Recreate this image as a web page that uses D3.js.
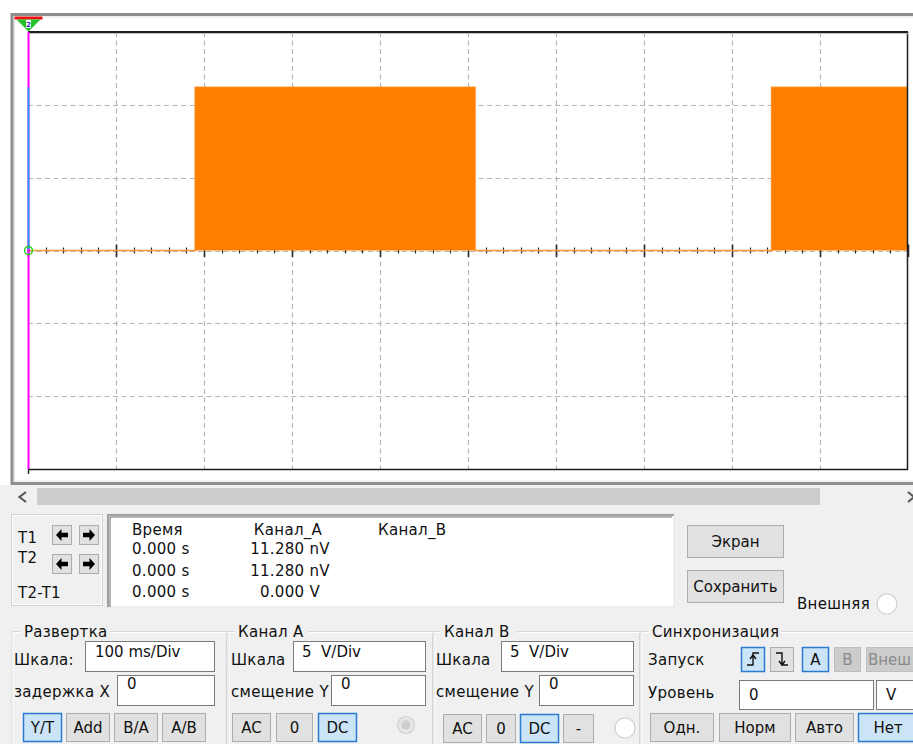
<!DOCTYPE html>
<html>
<head>
<meta charset="utf-8">
<script src="https://cdn.jsdelivr.net/npm/d3@7"></script>
<style>
  html, body { margin: 0; padding: 0; background: #fff; overflow: hidden; }
  svg { display: block; font-family: "DejaVu Sans", sans-serif; }
  svg text { white-space: pre; }
</style>
</head>
<body>
<svg id="scope" width="913" height="744"></svg>
<script>
// ---- Channel A trace: time (ms) against voltage (V) ----
const timeMs   = [0, 190, 190, 508, 508, 845, 845, 1000];
const channelA = [0, 0, 11.2, 11.2, 0, 0, 11.2, 11.2];

// ---- Screen divisions ----
const timeDivs = [0, 100, 200, 300, 400, 500, 600, 700, 800, 900, 1000];
const voltDivs = [-15, -10, -5, 0, 5, 10, 15];
const minorPerDiv = 5;

// ---- Cursor readout ----
const cursorRows     = ["T1", "T2", "T2-T1"];
const readoutHeaders = ["Время", "Канал_А", "Канал_В"];
const readoutTime    = ["0.000 s", "0.000 s", "0.000 s"];
const readoutA       = ["11.280 nV", "11.280 nV", "0.000 V"];

// ---- Instrument settings ----
const timebaseScale = "100 ms/Div";
const delayX        = "0";
const chAScale      = "5  V/Div";
const chAOffset     = "0";
const chBScale      = "5  V/Div";
const chBOffset     = "0";
const triggerLevel  = "0";
const triggerUnit   = "V";

const svg = d3.select("#scope");
const FONT = 15;

// page backgrounds
svg.append("rect").attr("width", 913).attr("height", 744).attr("fill", "#ffffff");
svg.append("rect").attr("x", 0).attr("y", 485).attr("width", 913).attr("height", 259).attr("fill", "#f0f0f0");

// outer screen frame
svg.append("rect").attr("x", 12).attr("y", 14.5).attr("width", 960).attr("height", 469)
  .attr("fill", "#ffffff").attr("stroke", "#8e8e8e").attr("stroke-width", 3);
svg.append("rect").attr("x", 14.5).attr("y", 17).attr("width", 960).attr("height", 464)
  .attr("fill", "none").attr("stroke", "#e4e4e4").attr("stroke-width", 1);

// ---- scales ----
const x = d3.scaleLinear().domain([timeDivs[0], timeDivs[timeDivs.length - 1]]).range([28, 908]);
const y = d3.scaleLinear().domain([voltDivs[0], voltDivs[voltDivs.length - 1]]).range([469, 32]);
const y0 = y(0);

svg.append("clipPath").attr("id", "plotClip")
  .append("rect").attr("x", x(0)).attr("y", y(15)).attr("width", x(1000) - x(0) - 1).attr("height", y(-15) - y(15));

const plot = svg.append("g");

// dashed grid
plot.append("g").selectAll("line").data(timeDivs.slice(1, -1)).join("line")
  .attr("x1", d => Math.round(x(d)) + 0.5).attr("x2", d => Math.round(x(d)) + 0.5)
  .attr("y1", y(15)).attr("y2", y(-15))
  .attr("stroke", "#b5b5b5").attr("stroke-width", 1.2).attr("stroke-dasharray", "5,3.5");
plot.append("g").selectAll("line").data(voltDivs.slice(1, -1)).join("line")
  .attr("x1", x(0)).attr("x2", x(1000))
  .attr("y1", d => Math.round(y(d)) + 0.5).attr("y2", d => Math.round(y(d)) + 0.5)
  .attr("stroke", "#b5b5b5").attr("stroke-width", 1.2).attr("stroke-dasharray", "5,3.5");

// ticks along the centre time axis
const divStep = timeDivs[1] - timeDivs[0];
const minorTicks = d3.range(timeDivs[0], timeDivs[timeDivs.length - 1] + 1e-9, divStep / minorPerDiv);
plot.append("g").selectAll("line").data(minorTicks).join("line")
  .attr("x1", d => Math.round(x(d)) + 0.5).attr("x2", d => Math.round(x(d)) + 0.5)
  .attr("y1", d => (d % divStep === 0 ? y0 - 6 : y0 - 3))
  .attr("y2", d => (d % divStep === 0 ? y0 + 6.5 : y0 + 3))
  .attr("stroke", "#2a2a2a").attr("stroke-width", d => (d % divStep === 0 ? 1.6 : 1.2));

// channel A trace
const idx = d3.range(timeMs.length);
const trace = plot.append("g").attr("clip-path", "url(#plotClip)");
trace.append("path")
  .attr("d", d3.line().x(i => x(timeMs[i])).y(i => y(channelA[i]))(idx))
  .attr("fill", "none").attr("stroke", "#f99b3c").attr("stroke-width", 1.6);
trace.append("path")
  .attr("d", d3.area().x(i => x(timeMs[i])).y0(y0).y1(i => y(channelA[i]))(idx))
  .attr("fill", "#ff8000");

// screen border
const border = svg.append("g").attr("stroke", "#1e1e1e").attr("fill", "none");
border.append("line").attr("x1", x(0)).attr("x2", x(1000)).attr("y1", 32).attr("y2", 32).attr("stroke-width", 1.8);
border.append("line").attr("x1", x(1000) - 0.5).attr("x2", x(1000) - 0.5).attr("y1", 32).attr("y2", 470).attr("stroke-width", 1.5);
border.append("line").attr("x1", x(0)).attr("x2", x(1000)).attr("y1", 469.5).attr("y2", 469.5).attr("stroke-width", 1.6);
border.append("line").attr("x1", x(0) + 0.5).attr("x2", x(0) + 0.5).attr("y1", 469).attr("y2", 474).attr("stroke-width", 1.4);
svg.append("line").attr("x1", x(0)).attr("x2", x(1000)).attr("y1", 33.6).attr("y2", 33.6)
  .attr("stroke", "#bdbdbd").attr("stroke-width", 1);

// cursors T1 / T2 at t = 0
const cx = x(0) + 0.5;
svg.append("line").attr("x1", cx).attr("x2", cx).attr("y1", 32).attr("y2", 469)
  .attr("stroke", "#ff00ff").attr("stroke-width", 2);
svg.append("line").attr("x1", cx).attr("x2", cx).attr("y1", y(channelA[channelA.length - 1])).attr("y2", y0)
  .attr("stroke", "#2f9bf5").attr("stroke-width", 2);
svg.append("circle").attr("cx", cx).attr("cy", y0).attr("r", 4)
  .attr("fill", "none").attr("stroke", "#1fd21f").attr("stroke-width", 1.5);
svg.append("circle").attr("cx", cx).attr("cy", y0).attr("r", 1.3).attr("fill", "#ff00ff");

// cursor flag
svg.append("rect").attr("x", cx - 14).attr("y", 16.5).attr("width", 28).attr("height", 3).attr("fill", "#ee1111");
svg.append("path").attr("d", `M${cx - 12},19.5 L${cx + 12},19.5 L${cx},31.5 Z`).attr("fill", "#22c42a");
svg.append("rect").attr("x", cx - 2.5).attr("y", 20).attr("width", 5).attr("height", 8).attr("fill", "#ffffff");
svg.append("text").attr("x", cx).attr("y", 27).attr("text-anchor", "middle")
  .attr("font-size", 7).attr("font-weight", "bold").attr("fill", "#2233cc").text("2");

// horizontal scrollbar
svg.append("rect").attr("x", 37).attr("y", 488).attr("width", 783).attr("height", 17).attr("fill", "#cdcdcd");
svg.append("path").attr("d", "M26,492 L19.5,497 L26,502").attr("fill", "none").attr("stroke", "#5a5a5a").attr("stroke-width", 2.2);
svg.append("path").attr("d", "M908,492 L914,497 L908,502").attr("fill", "none").attr("stroke", "#5a5a5a").attr("stroke-width", 2.2);

// ---- widgets ----
function label(g, x0, yb, txt, opts = {}) {
  return g.append("text").attr("x", x0).attr("y", yb)
    .attr("font-size", opts.size || FONT)
    .attr("text-anchor", opts.anchor || "start")
    .attr("fill", opts.color || "#111")
    .attr("letter-spacing", opts.ls != null ? opts.ls : 0.3)
    .text(txt);
}
function button(g, x0, y0b, w, h, txt, state, textX) {
  const fill = state === "on" ? "#cce4f7" : state === "off" ? "#cccccc" : "#e1e1e1";
  const stroke = state === "on" ? "#2a7cd0" : state === "off" ? "#bfbfbf" : "#adadad";
  g.append("rect").attr("x", x0 + 0.5).attr("y", y0b + 0.5).attr("width", w - 1).attr("height", h - 1)
    .attr("fill", fill).attr("stroke", stroke).attr("stroke-width", state === "on" ? 1.5 : 1);
  if (txt != null) {
    g.append("text")
      .attr("x", textX != null ? textX : x0 + w / 2)
      .attr("y", y0b + h / 2 + 5.5)
      .attr("text-anchor", textX != null ? "start" : "middle")
      .attr("font-size", FONT).attr("fill", state === "off" ? "#8a8a8a" : "#111").text(txt);
  }
}
function input(g, x0, y0b, w, h, txt, tx, tb) {
  g.append("rect").attr("x", x0 + 0.5).attr("y", y0b + 0.5).attr("width", w - 1).attr("height", h - 1)
    .attr("fill", "#ffffff").attr("stroke", "#7a7a7a").attr("stroke-width", 1);
  label(g, x0 + tx, y0b + tb, txt, { ls: 0 });
}
function groupBox(g, x0, x1, yTop, title, tStart, tEnd) {
  const p = `M${tStart},${yTop} L${x0},${yTop} L${x0},760 M${x1},760 L${x1},${yTop} L${tEnd},${yTop}`;
  g.append("path").attr("d", p).attr("fill", "none").attr("stroke", "#d5d5d5").attr("stroke-width", 1);
  g.append("path").attr("d", p).attr("transform", "translate(1,1)").attr("fill", "none").attr("stroke", "#ffffff").attr("stroke-width", 1);
  label(g, tStart + 4, yTop + 5.5, title);
}
function radio(g, cxp, cyp, r, disabled) {
  g.append("circle").attr("cx", cxp).attr("cy", cyp).attr("r", r)
    .attr("fill", disabled ? "#e6e6e6" : "#ffffff").attr("stroke", disabled ? "#cfcfcf" : "#d0d0d0").attr("stroke-width", 1.2);
  if (disabled) g.append("circle").attr("cx", cxp).attr("cy", cyp).attr("r", r * 0.55).attr("fill", "#cfcfcf");
}
function arrowButton(g, x0, y0b, dir) {
  g.append("rect").attr("x", x0 + 0.5).attr("y", y0b + 0.5).attr("width", 19).attr("height", 19)
    .attr("fill", "#e1e1e1").attr("stroke", "#adadad");
  const c = x0 + 10, m = y0b + 10, s = dir === "left" ? -1 : 1;
  const path = `M${c + s * 6},${m} L${c + s * 0.5},${m - 6} L${c + s * 0.5},${m - 2.2} L${c - s * 6},${m - 2.2} L${c - s * 6},${m + 2.2} L${c + s * 0.5},${m + 2.2} L${c + s * 0.5},${m + 6} Z`;
  g.append("path").attr("d", path).attr("fill", "#000");
}

const ui = svg.append("g");

// cursor buttons panel
ui.append("rect").attr("x", 11.5).attr("y", 514.5).attr("width", 91).attr("height", 91)
  .attr("fill", "none").attr("stroke", "#d2d2d2");
ui.append("rect").attr("x", 12.5).attr("y", 515.5).attr("width", 89).attr("height", 89)
  .attr("fill", "none").attr("stroke", "#ffffff");
label(ui, 18, 543, cursorRows[0]);
label(ui, 18, 563, cursorRows[1]);
label(ui, 18, 598, cursorRows[2]);
arrowButton(ui, 52, 525, "left");
arrowButton(ui, 79, 525, "right");
arrowButton(ui, 52, 554, "left");
arrowButton(ui, 79, 554, "right");

// readout box
ui.append("rect").attr("x", 107).attr("y", 514).attr("width", 567).attr("height", 93)
  .attr("fill", "#ffffff").attr("stroke", "#e3e3e3");
ui.append("path").attr("d", "M108,607 L108,515 L674,515").attr("fill", "none").attr("stroke", "#a0a0a0").attr("stroke-width", 2);
ui.append("path").attr("d", "M110,607 L110,517 L672,517").attr("fill", "none").attr("stroke", "#696969").attr("stroke-width", 1);
label(ui, 132, 535, readoutHeaders[0]);
label(ui, 288, 535, readoutHeaders[1], { anchor: "middle" });
label(ui, 378, 535, readoutHeaders[2]);
readoutTime.forEach((t, i) => label(ui, 132, 554 + i * 21.5, t));
readoutA.forEach((t, i) => label(ui, 290, 554 + i * 21.5, t, { anchor: "middle" }));

// screen buttons
button(ui, 687, 525, 97, 33, "Экран", "normal");
button(ui, 687, 570, 97, 33, "Сохранить", "normal");
label(ui, 797, 609, "Внешняя");
radio(ui, 887, 604, 10, false);

// group boxes
groupBox(ui, 12, 226.5, 631.5, "Развертка", 20, 110);
groupBox(ui, 228, 432.5, 631.5, "Канал А", 234, 308);
groupBox(ui, 434, 639.5, 631.5, "Канал В", 440, 517);
groupBox(ui, 641, 960, 631.5, "Синхронизация", 648, 781);

// timebase
label(ui, 14, 665, "Шкала:");
input(ui, 85, 641, 130, 31, timebaseScale, 10, 15.5);
label(ui, 14, 697, "задержка X");
input(ui, 117, 675, 98, 31, delayX, 10, 14);
button(ui, 23, 713, 39, 29, "Y/T", "on");
button(ui, 66, 713, 44, 29, "Add", "normal");
button(ui, 114, 713, 44, 29, "B/A", "normal");
button(ui, 162, 713, 44, 29, "A/B", "normal");

// channel A
label(ui, 231, 665, "Шкала");
input(ui, 293, 641, 133, 31, chAScale, 9, 15.5);
label(ui, 231, 697, "смещение Y");
input(ui, 331, 675, 95, 31, chAOffset, 10, 14);
button(ui, 232, 713, 39, 29, "AC", "normal");
button(ui, 276, 713, 37, 29, "0", "normal");
button(ui, 318, 713, 39, 29, "DC", "on");
radio(ui, 406, 725, 8.5, true);

// channel B
label(ui, 436, 665, "Шкала");
input(ui, 501, 641, 133, 31, chBScale, 9, 15.5);
label(ui, 436, 697, "смещение Y");
input(ui, 539, 675, 95, 31, chBOffset, 10, 14);
button(ui, 443, 714, 39, 29, "AC", "normal");
button(ui, 486, 714, 30, 29, "0", "normal");
button(ui, 520, 714, 39, 29, "DC", "on");
button(ui, 563, 714, 31, 29, "-", "normal");
radio(ui, 625, 728, 10, false);

// trigger
label(ui, 648, 665, "Запуск");
button(ui, 741, 647, 24, 25, null, "on");
ui.append("path").attr("d", "M747,665 L753,665 L753,653 L759,653 M750,659 L753,655 L756,659")
  .attr("fill", "none").attr("stroke", "#111").attr("stroke-width", 1.4);
button(ui, 770, 647, 24, 25, null, "normal");
ui.append("path").attr("d", "M776,653 L782,653 L782,665 L788,665 M779,661 L782,665 L785,661")
  .attr("fill", "none").attr("stroke", "#111").attr("stroke-width", 1.4);
button(ui, 802, 647, 27, 25, "A", "on");
button(ui, 834, 647, 27, 25, "B", "off");
button(ui, 866, 647, 55, 25, "Внеш", "off", 868);
label(ui, 648, 698, "Уровень");
input(ui, 739, 680, 135, 30, triggerLevel, 10, 20);
input(ui, 876, 680, 50, 30, triggerUnit, 10, 20);
button(ui, 650, 713, 64, 29, "Одн.", "normal");
button(ui, 719, 713, 72, 29, "Норм", "normal");
button(ui, 795, 713, 59, 29, "Авто", "normal");
button(ui, 858, 713, 60, 29, "Нет", "on");
</script>
</body>
</html>
